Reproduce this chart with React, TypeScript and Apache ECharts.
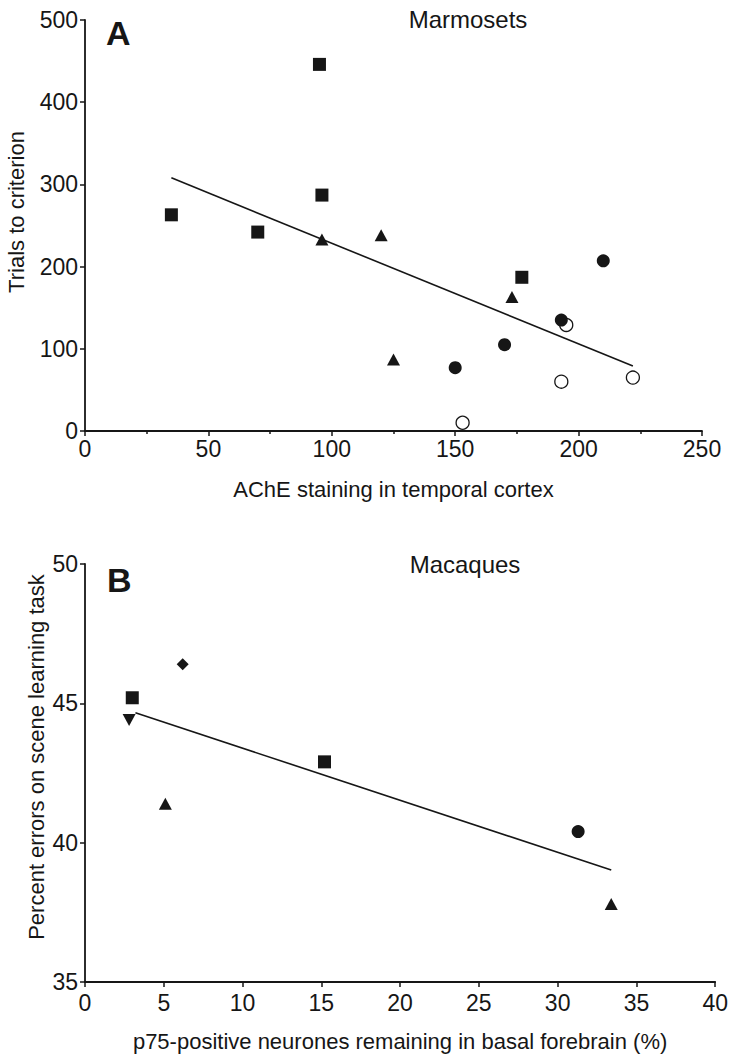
import React, { useEffect, useRef } from "react";
import * as echarts from "echarts";

// ---- Panel A: Marmosets ----
const marmosetXTicks = [0, 50, 100, 150, 200, 250];
const marmosetYTicks = [0, 100, 200, 300, 400, 500];
const marmosetOpenCircles = [[153, 10], [193, 60], [195, 129], [222, 65]];
const marmosetSquares = [[35, 263], [70, 242], [95, 446], [96, 287], [177, 187]];
const marmosetTriangles = [[96, 233], [120, 238], [125, 87], [173, 163]];
const marmosetFilledCircles = [[150, 77], [170, 105], [193, 135], [210, 207]];
const marmosetFit = [[35, 308], [222, 79]];

// ---- Panel B: Macaques ----
const macaqueXTicks = [0, 5, 10, 15, 20, 25, 30, 35, 40];
const macaqueYTicks = [35, 40, 45, 50];
const macaqueSquares = [[3.0, 45.2], [15.2, 42.9]];
const macaqueTriangles = [[5.1, 41.4], [33.4, 37.8]];
const macaqueDownTriangles = [[2.8, 44.4]];
const macaqueDiamonds = [[6.2, 46.4]];
const macaqueCircles = [[31.3, 40.4]];
const macaqueFit = [[3.2, 44.66], [33.4, 39.02]];

const FONT = "Liberation Sans, Arial, Helvetica, sans-serif";
const INK = "#161616";
const TICK_FONT = 23;

function axisBase(ticks: number[]) {
  return {
    type: "value",
    min: ticks[0],
    max: ticks[ticks.length - 1],
    interval: ticks[1] - ticks[0],
    splitLine: { show: false },
    axisLine: { show: true, onZero: false, lineStyle: { color: INK, width: 1.8 } },
    axisTick: { show: true, inside: false, length: 5, lineStyle: { color: INK, width: 1.5 } },
    axisLabel: { color: INK, fontSize: TICK_FONT, fontFamily: FONT },
  };
}

export default function App() {
  const ref = useRef<HTMLDivElement>(null);
  useEffect(() => {
    const chart = echarts.init(ref.current!, null, { renderer: "svg" });
    const markerStyle = { color: INK, opacity: 1 };
    const option: any = {
      animation: false,
      backgroundColor: "#ffffff",
      grid: [
        { left: 85, top: 20, width: 617, height: 411 },
        { left: 85, top: 564, width: 632, height: 418 },
      ],
      xAxis: [
        {
          ...axisBase(marmosetXTicks),
          gridIndex: 0,
          minorTick: { show: true, splitNumber: 2, length: 3, lineStyle: { color: INK, width: 1.5 } },
          axisLabel: { color: INK, fontSize: TICK_FONT, fontFamily: FONT, margin: 6 },
          name: "AChE staining in temporal cortex",
          nameLocation: "middle",
          nameGap: 47,
          nameTextStyle: { color: INK, fontSize: 22, fontFamily: FONT, verticalAlign: "top" },
        },
        {
          ...axisBase(macaqueXTicks),
          gridIndex: 1,
          axisLabel: { color: INK, fontSize: TICK_FONT, fontFamily: FONT, margin: 9 },
          name: "p75-positive neurones remaining in basal forebrain (%)",
          nameLocation: "middle",
          nameGap: 48,
          nameTextStyle: { color: INK, fontSize: 22, fontFamily: FONT, verticalAlign: "top" },
        },
      ],
      yAxis: [
        {
          ...axisBase(marmosetYTicks),
          gridIndex: 0,
          axisLabel: { color: INK, fontSize: TICK_FONT, fontFamily: FONT, margin: 7 },
        },
        {
          ...axisBase(macaqueYTicks),
          gridIndex: 1,
          axisLabel: { color: INK, fontSize: TICK_FONT, fontFamily: FONT, margin: 7 },
        },
      ],
      graphic: [
        {
          type: "text",
          x: 16,
          y: 212,
          rotation: Math.PI / 2,
          style: {
            text: "Trials to criterion",
            font: `22px ${FONT}`,
            fill: INK,
            textAlign: "center",
            textVerticalAlign: "middle",
          },
        },
        {
          type: "text",
          x: 36,
          y: 757,
          rotation: Math.PI / 2,
          style: {
            text: "Percent errors on scene learning task",
            font: `22px ${FONT}`,
            fill: INK,
            textAlign: "center",
            textVerticalAlign: "middle",
          },
        },
        {
          type: "text",
          x: 106,
          y: 33,
          style: { text: "A", font: `bold 34px ${FONT}`, fill: INK, textAlign: "left", textVerticalAlign: "middle" },
        },
        {
          type: "text",
          x: 107,
          y: 580,
          style: { text: "B", font: `bold 34px ${FONT}`, fill: INK, textAlign: "left", textVerticalAlign: "middle" },
        },
        {
          type: "text",
          x: 468,
          y: 19,
          style: { text: "Marmosets", font: `24px ${FONT}`, fill: INK, textAlign: "center", textVerticalAlign: "middle" },
        },
        {
          type: "text",
          x: 465,
          y: 564,
          style: { text: "Macaques", font: `24px ${FONT}`, fill: INK, textAlign: "center", textVerticalAlign: "middle" },
        },
      ],
      series: [
        {
          type: "line",
          xAxisIndex: 0,
          yAxisIndex: 0,
          data: marmosetFit,
          symbol: "none",
          lineStyle: { color: INK, width: 1.6 },
          z: 1,
        },
        {
          type: "scatter",
          xAxisIndex: 0,
          yAxisIndex: 0,
          data: marmosetOpenCircles,
          symbol: "circle",
          symbolSize: 13,
          itemStyle: { color: "#ffffff", borderColor: INK, borderWidth: 1.3, opacity: 1 },
          z: 2,
        },
        {
          type: "scatter",
          xAxisIndex: 0,
          yAxisIndex: 0,
          data: marmosetSquares,
          symbol: "rect",
          symbolSize: 13,
          itemStyle: markerStyle,
          z: 3,
        },
        {
          type: "scatter",
          xAxisIndex: 0,
          yAxisIndex: 0,
          data: marmosetTriangles,
          symbol: "triangle",
          symbolSize: [13, 12],
          itemStyle: markerStyle,
          z: 3,
        },
        {
          type: "scatter",
          xAxisIndex: 0,
          yAxisIndex: 0,
          data: marmosetFilledCircles,
          symbol: "circle",
          symbolSize: 13,
          itemStyle: markerStyle,
          z: 3,
        },
        {
          type: "line",
          xAxisIndex: 1,
          yAxisIndex: 1,
          data: macaqueFit,
          symbol: "none",
          lineStyle: { color: INK, width: 1.6 },
          z: 1,
        },
        {
          type: "scatter",
          xAxisIndex: 1,
          yAxisIndex: 1,
          data: macaqueSquares,
          symbol: "rect",
          symbolSize: 13,
          itemStyle: markerStyle,
          z: 3,
        },
        {
          type: "scatter",
          xAxisIndex: 1,
          yAxisIndex: 1,
          data: macaqueTriangles,
          symbol: "triangle",
          symbolSize: [13, 12],
          itemStyle: markerStyle,
          z: 3,
        },
        {
          type: "scatter",
          xAxisIndex: 1,
          yAxisIndex: 1,
          data: macaqueDownTriangles,
          symbol: "triangle",
          symbolRotate: 180,
          symbolSize: [13, 12],
          itemStyle: markerStyle,
          z: 3,
        },
        {
          type: "scatter",
          xAxisIndex: 1,
          yAxisIndex: 1,
          data: macaqueDiamonds,
          symbol: "diamond",
          symbolSize: [12, 12],
          itemStyle: markerStyle,
          z: 3,
        },
        {
          type: "scatter",
          xAxisIndex: 1,
          yAxisIndex: 1,
          data: macaqueCircles,
          symbol: "circle",
          symbolSize: 13,
          itemStyle: markerStyle,
          z: 3,
        },
      ],
    };
    chart.setOption(option);
    return () => chart.dispose();
  }, []);
  return (
    <div
      ref={ref}
      style={{ position: "absolute", left: 0, top: 0, width: 731, height: 1058, background: "#ffffff" }}
    />
  );
}
